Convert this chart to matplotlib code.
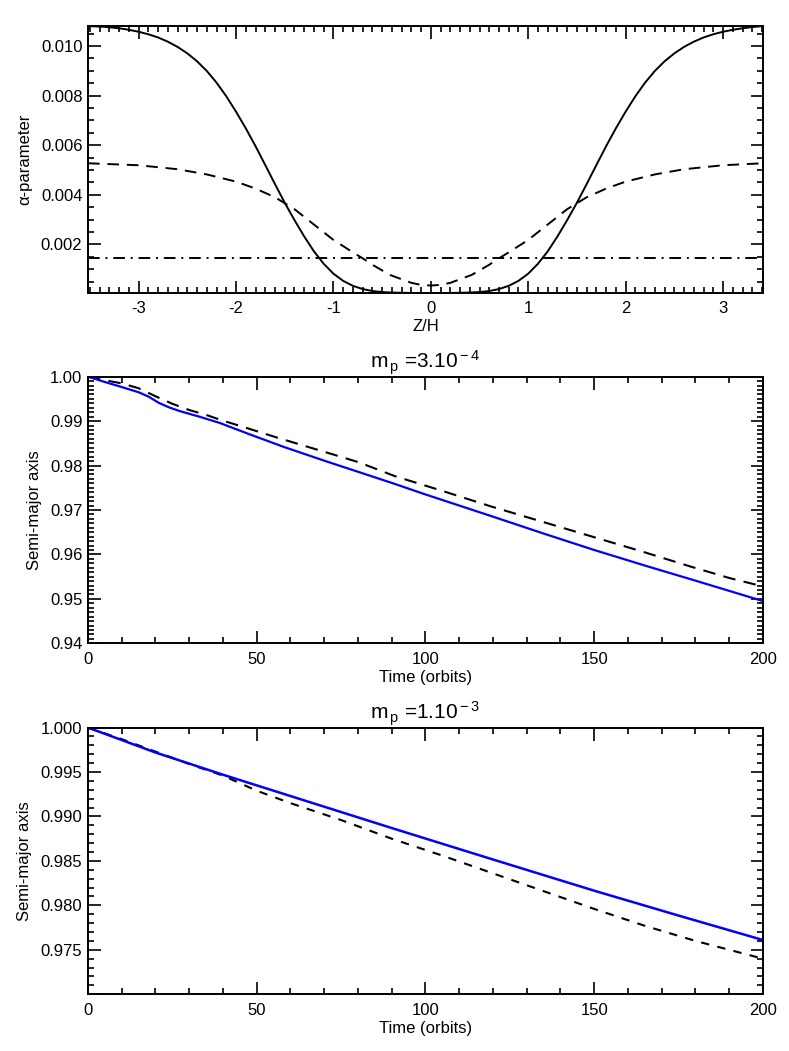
import matplotlib
matplotlib.use("Agg")
import matplotlib.pyplot as plt
from matplotlib.ticker import MultipleLocator, FormatStrFormatter, FixedLocator

plt.rcParams['font.family'] = ['Liberation Sans', 'DejaVu Sans']
plt.rcParams['mathtext.fontset'] = 'custom'
plt.rcParams['mathtext.rm'] = 'Liberation Sans'
plt.rcParams['mathtext.it'] = 'Liberation Sans'
plt.rcParams['axes.unicode_minus'] = False

# ---------------- Panel 1: alpha profiles ----------------
z = [-3.52, -3.35, -3.2, -3.1, -3.0, -2.9, -2.8, -2.7, -2.6, -2.5, -2.4, -2.3, -2.2,
     -2.1, -2.0, -1.9, -1.8, -1.7, -1.6, -1.5, -1.4, -1.3, -1.2, -1.1, -1.0, -0.9,
     -0.8, -0.7, -0.6, -0.5, -0.4, -0.3, -0.15, 0.0, 0.15, 0.3, 0.4, 0.5, 0.6, 0.7,
     0.8, 0.9, 1.0, 1.1, 1.2, 1.3, 1.4, 1.5, 1.6, 1.7, 1.8, 1.9, 2.0, 2.1, 2.2, 2.3,
     2.4, 2.5, 2.6, 2.7, 2.8, 2.9, 3.0, 3.1, 3.2, 3.3, 3.41]
alpha_solid = [0.01080, 0.01077, 0.01071, 0.01065, 0.01057, 0.01047, 0.01034, 0.01017,
               0.00996, 0.00970, 0.00938, 0.00899, 0.00852, 0.00797, 0.00735, 0.00668,
               0.00596, 0.00520, 0.00443, 0.00368, 0.00298, 0.00232, 0.00172, 0.00122,
               0.00082, 0.00053, 0.00033, 0.00020, 0.00012, 0.00008, 0.00006, 0.00005,
               0.00004, 0.00004, 0.00004, 0.00005, 0.00006, 0.00008, 0.00012, 0.00020,
               0.00033, 0.00053, 0.00082, 0.00122, 0.00172, 0.00232, 0.00298, 0.00368,
               0.00443, 0.00520, 0.00596, 0.00668, 0.00735, 0.00797, 0.00852, 0.00899,
               0.00938, 0.00970, 0.00996, 0.01017, 0.01034, 0.01047, 0.01057, 0.01065,
               0.01071, 0.01076, 0.01080]
z_d = [-3.52, -3.0, -2.6, -2.3, -2.0, -1.8, -1.6, -1.4, -1.2, -1.0, -0.8, -0.7, -0.6,
       -0.42, -0.2, -0.1, 0.0, 0.1, 0.2, 0.42, 0.6, 0.7, 0.8, 1.0, 1.2, 1.4, 1.6, 1.8,
       2.0, 2.3, 2.6, 3.0, 3.41]
alpha_dashed = [0.00527, 0.00519, 0.00503, 0.00482, 0.00453, 0.00425, 0.00390, 0.00342,
                0.00280, 0.00218, 0.00168, 0.00144, 0.00118, 0.00077, 0.00045, 0.00037,
                0.00034, 0.00037, 0.00045, 0.00077, 0.00118, 0.00144, 0.00168, 0.00218,
                0.00280, 0.00342, 0.00390, 0.00425, 0.00453, 0.00482, 0.00503, 0.00519,
                0.00527]
z_c = [-3.52, 3.41]
alpha_const = [0.00144, 0.00144]

# ---------------- Panel 2: m_p = 3e-4 ----------------
t2_blue = [0, 5, 9, 15, 18, 21, 24, 27, 33, 39, 48, 58, 70, 80, 90, 100, 110, 120,
           135, 150, 165, 180, 190, 200]
a2_blue = [1.0000, 0.9988, 0.9979, 0.9965, 0.9955, 0.9941, 0.9931, 0.9923, 0.9910,
           0.9896, 0.9870, 0.9842, 0.9811, 0.9786, 0.9761, 0.9735, 0.9710, 0.9685,
           0.9647, 0.9610, 0.9575, 0.9541, 0.9518, 0.9495]
t2_dash = [0, 5, 10, 15, 20, 25, 30, 35, 40, 46, 51, 56, 70, 80, 91, 105, 119, 134,
           149, 164, 178, 190, 200]
a2_dash = [1.0000, 0.9992, 0.9985, 0.9974, 0.9956, 0.9939, 0.9925, 0.9914, 0.9901,
           0.9887, 0.9875, 0.9863, 0.9831, 0.9808, 0.9776, 0.9743, 0.9709, 0.9675,
           0.9641, 0.9607, 0.9574, 0.9547, 0.9528]

# ---------------- Panel 3: m_p = 1e-3 ----------------
t3_blue = [0, 20, 40, 60, 90, 120, 150, 175, 200]
a3_blue = [1.0000, 0.9972, 0.9947, 0.9923, 0.9887, 0.98516, 0.98165, 0.97885, 0.9761]
t3_dash = [0, 10, 20, 30, 40, 50, 60, 75, 90, 105, 120, 135, 150, 165, 180, 200]
a3_dash = [1.0000, 0.9987, 0.9973, 0.9959, 0.9946, 0.9929, 0.9915, 0.9896, 0.9875,
           0.9856, 0.9836, 0.9816, 0.9796, 0.9777, 0.9760, 0.9740]

fig = plt.figure(figsize=(7.89, 10.51), dpi=100)
L, W = 0.1115, 0.8555
ax1 = fig.add_axes([L, 0.7212, W, 0.2540])
ax2 = fig.add_axes([L, 0.3879, W, 0.2537])
ax3 = fig.add_axes([L, 0.0540, W, 0.2537])

FS = 12
TFS = 15
for ax in (ax1, ax2, ax3):
    for s in ax.spines.values():
        s.set_linewidth(1.4)
    ax.tick_params(which='both', direction='in', top=True, right=True,
                   labelsize=FS, width=1.2)
    ax.tick_params(axis='x', which='both', pad=6)
    ax.tick_params(axis='y', which='both', pad=4)
    ax.tick_params(which='major', length=9)
    ax.tick_params(which='minor', length=4.5)

# Panel 1
ax1.plot(z, alpha_solid, color='black', lw=1.4)
ax1.plot(z_d, alpha_dashed, color='black', lw=1.4, dashes=(6, 4))
ax1.plot(z_c, alpha_const, color='black', lw=1.4, dashes=(6, 3, 1, 3))
ax1.set_xlim(-3.52, 3.41)
ax1.set_ylim(0.00004, 0.0108)
ax1.xaxis.set_major_locator(FixedLocator([-3, -2, -1, 0, 1, 2, 3]))
ax1.xaxis.set_minor_locator(MultipleLocator(0.1))
ax1.yaxis.set_major_locator(FixedLocator([0.002, 0.004, 0.006, 0.008, 0.010]))
ax1.yaxis.set_minor_locator(MultipleLocator(0.0005))
ax1.yaxis.set_major_formatter(FormatStrFormatter('%.3f'))
ax1.set_xlabel('Z/H', fontsize=FS, labelpad=2)
ax1.set_ylabel('α-parameter', fontsize=FS, labelpad=6)

# Panel 2
ax2.plot(t2_dash, a2_dash, color='black', lw=1.5, dashes=(6, 4))
ax2.plot(t2_blue, a2_blue, color='#0000ff', lw=1.6)
ax2.set_xlim(0, 200)
ax2.set_ylim(0.94, 1.00)
ax2.xaxis.set_major_locator(MultipleLocator(50))
ax2.xaxis.set_minor_locator(MultipleLocator(10))
ax2.yaxis.set_major_locator(MultipleLocator(0.01))
ax2.yaxis.set_minor_locator(MultipleLocator(0.001))
ax2.yaxis.set_major_formatter(FormatStrFormatter('%.2f'))
ax2.set_xlabel('Time (orbits)', fontsize=FS, labelpad=2.5)
ax2.set_ylabel('Semi-major axis', fontsize=FS, labelpad=6)
ax2.set_title(r'm$_{\rm\,p}$ =3.10$^{\rm -4}$', fontsize=TFS, pad=3)

# Panel 3
ax3.plot(t3_dash, a3_dash, color='black', lw=1.5, dashes=(4, 4))
ax3.plot(t3_blue, a3_blue, color='#0000ff', lw=1.8)
ax3.set_xlim(0, 200)
ax3.set_ylim(0.970, 1.000)
ax3.xaxis.set_major_locator(MultipleLocator(50))
ax3.xaxis.set_minor_locator(MultipleLocator(10))
ax3.yaxis.set_major_locator(FixedLocator([0.970, 0.975, 0.980, 0.985, 0.990, 0.995, 1.000]))
ax3.yaxis.set_minor_locator(MultipleLocator(0.001))
ax3.set_yticklabels(['', '0.975', '0.980', '0.985', '0.990', '0.995', '1.000'])
ax3.set_xlabel('Time (orbits)', fontsize=FS, labelpad=2.5)
ax3.set_ylabel('Semi-major axis', fontsize=FS, labelpad=6)
ax3.set_title(r'm$_{\rm\,p}$ =1.10$^{\rm -3}$', fontsize=TFS, pad=3)

fig.savefig('out.png', dpi=100)
